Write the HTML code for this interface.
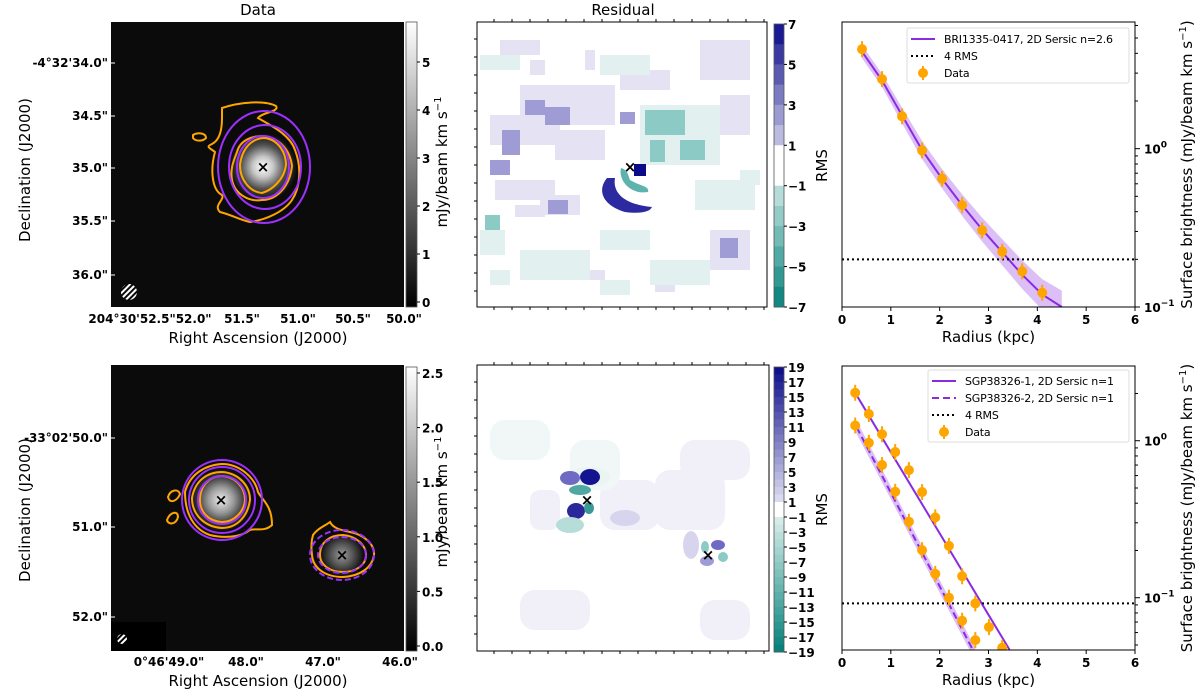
<!DOCTYPE html>
<html><head><meta charset="utf-8">
<style>
html,body{margin:0;padding:0;background:#fff;}
svg{display:block;font-family:"DejaVu Sans","Liberation Sans",sans-serif;}
.tk{font-size:12px;font-weight:bold;fill:#000;}
.lb{font-size:15px;fill:#000;}
</style></head>
<body>
<svg id="fig" width="1200" height="697" viewBox="0 0 1200 697" xmlns="http://www.w3.org/2000/svg">
<defs>
<radialGradient id="blob1" cx="0.5" cy="0.5" r="0.5">
 <stop offset="0" stop-color="#fff"/><stop offset="0.3" stop-color="#c8c8c8"/><stop offset="0.65" stop-color="#505050"/><stop offset="1" stop-color="#0a0a0a"/>
</radialGradient>
<radialGradient id="blob2" cx="0.5" cy="0.5" r="0.5">
 <stop offset="0" stop-color="#eee"/><stop offset="0.4" stop-color="#999"/><stop offset="0.75" stop-color="#333"/><stop offset="1" stop-color="#0a0a0a"/>
</radialGradient>
<radialGradient id="blob3" cx="0.5" cy="0.5" r="0.5">
 <stop offset="0" stop-color="#999"/><stop offset="0.5" stop-color="#555"/><stop offset="1" stop-color="#0a0a0a"/>
</radialGradient>
<linearGradient id="gray1" x1="0" y1="1" x2="0" y2="0"><stop offset="0" stop-color="#000"/><stop offset="1" stop-color="#fff"/></linearGradient>
<pattern id="hatch" width="4" height="4" patternUnits="userSpaceOnUse" patternTransform="rotate(45)"><rect width="2" height="4" fill="#fff"/></pattern>
</defs>

<text x="258" y="15" text-anchor="middle" class="lb">Data</text>
<text x="623" y="15" text-anchor="middle" class="lb">Residual</text>

<!-- ===== Top data image ===== -->
<g>
<rect x="111" y="22" width="293" height="285" fill="#0b0b0b"/>
<circle cx="263" cy="167" r="34" fill="url(#blob1)"/>
<g fill="none" stroke="#ffa500" stroke-width="2">
<path d="M222,108 C240,102 265,100 276,106 C280,112 262,112 258,118 C272,126 290,135 295,150 C302,168 300,188 292,200 C284,212 265,220 250,222 C240,220 232,215 220,212 C213,205 225,200 222,195 C212,190 210,170 215,152 C210,148 205,147 212,144 C220,140 222,128 222,118 Z"/>
<path d="M237,152 C240,140 252,136 263,136 C280,138 290,150 292,166 C290,185 278,200 262,200 C250,202 235,195 232,180 C230,168 234,160 237,152 Z"/>
<path d="M240,165 C242,148 252,138 265,138 C278,140 286,152 286,165 C284,180 272,190 262,193 C250,192 240,180 240,165 Z"/>
<path d="M193,135 C198,132 206,133 206,138 C202,142 195,141 193,138 Z"/>
</g>
<g fill="none" stroke="#9b30ff" stroke-width="2">
<ellipse cx="264" cy="167" rx="46" ry="56"/>
<ellipse cx="265" cy="167" rx="36" ry="42"/>
<ellipse cx="263" cy="167" rx="26" ry="31"/>
</g>
<text x="263" y="172" text-anchor="middle" font-size="15" font-weight="bold" fill="#000">×</text>
<circle cx="129" cy="292" r="8" fill="url(#hatch)"/>
</g>
<rect x="406" y="22" width="11" height="285" fill="url(#gray1)" stroke="#555" stroke-width="0.8"/>

<!-- ===== Bottom data image ===== -->
<g>
<rect x="111" y="365" width="293" height="286" fill="#0b0b0b"/>
<rect x="111" y="622" width="55" height="29" fill="#000"/>
<circle cx="221" cy="500" r="32" fill="url(#blob2)"/>
<circle cx="342" cy="555" r="22" fill="url(#blob3)"/>
<g fill="none" stroke="#ffa500" stroke-width="2">
<path d="M185,492 C190,474 205,465 222,464 C240,464 255,478 258,492 C262,500 272,505 272,525 C265,532 255,528 250,530 C240,538 222,538 210,535 C195,530 185,515 185,492 Z"/>
<path d="M192,498 C195,480 208,472 222,472 C238,473 250,485 250,500 C248,515 238,528 222,528 C205,527 192,515 192,498 Z"/>
<path d="M200,500 C200,485 210,476 222,476 C236,477 245,488 245,500 C244,512 234,522 222,522 C208,521 200,512 200,500 Z"/>
<path d="M168,497 C170,490 178,488 180,494 C178,500 170,505 168,497 Z"/>
<path d="M167,520 C170,512 178,510 178,517 C176,525 168,525 167,520 Z"/>
<path d="M313,535 C318,528 325,526 330,522 C333,528 340,530 350,532 C365,535 375,545 374,555 C372,568 360,576 343,577 C325,577 313,568 312,555 C311,548 311,542 313,535 Z"/>
<path d="M320,555 C320,542 330,535 343,535 C356,536 366,545 366,555 C366,565 356,572 343,572 C330,572 320,565 320,555 Z"/>
</g>
<g fill="none" stroke="#9b30ff" stroke-width="2">
<circle cx="222" cy="500" r="40"/>
<circle cx="222" cy="500" r="33"/>
<circle cx="222" cy="500" r="24"/>
</g>
<g fill="none" stroke="#9b30ff" stroke-width="2" stroke-dasharray="6,3">
<ellipse cx="342" cy="555" rx="32" ry="25"/>
<ellipse cx="342" cy="555" rx="24" ry="18"/>
</g>
<text x="221" y="505" text-anchor="middle" font-size="15" font-weight="bold" fill="#000">×</text>
<text x="342" y="560" text-anchor="middle" font-size="15" font-weight="bold" fill="#000">×</text>
<circle cx="122" cy="639" r="5" fill="url(#hatch)"/>
</g>
<rect x="406" y="367" width="11" height="284" fill="url(#gray1)" stroke="#555" stroke-width="0.8"/>

<!-- ===== Top residual ===== -->
<g>
<rect x="477" y="22" width="290" height="285" fill="#fff"/>
<g fill="#e4e2f3">
<rect x="490" y="115" width="70" height="30"/><rect x="520" y="85" width="95" height="40"/><rect x="555" y="130" width="50" height="30"/>
<rect x="495" y="180" width="60" height="20"/><rect x="540" y="195" width="40" height="20"/><rect x="700" y="40" width="50" height="40"/>
<rect x="710" y="230" width="40" height="40"/><rect x="500" y="40" width="40" height="15"/><rect x="620" y="70" width="50" height="20"/>
<rect x="720" y="95" width="30" height="40"/><rect x="515" y="205" width="30" height="12"/><rect x="580" y="270" width="25" height="10"/>
<rect x="655" y="280" width="20" height="12"/><rect x="530" y="60" width="15" height="15"/><rect x="585" y="50" width="10" height="20"/>
</g>
<g fill="#e2f1f0">
<rect x="640" y="105" width="80" height="60"/><rect x="600" y="55" width="50" height="20"/><rect x="520" y="250" width="70" height="30"/>
<rect x="650" y="260" width="60" height="25"/><rect x="480" y="55" width="40" height="15"/><rect x="695" y="180" width="60" height="30"/>
<rect x="600" y="230" width="50" height="20"/><rect x="480" y="230" width="25" height="25"/><rect x="740" y="170" width="20" height="15"/>
<rect x="490" y="270" width="20" height="15"/><rect x="600" y="280" width="30" height="15"/>
</g>
<g fill="#9f9bd4">
<rect x="525" y="100" width="20" height="15"/><rect x="545" y="107" width="25" height="18"/><rect x="502" y="130" width="18" height="25"/>
<rect x="490" y="160" width="20" height="15"/><rect x="720" y="238" width="18" height="20"/><rect x="548" y="200" width="20" height="14"/>
<rect x="620" y="112" width="15" height="12"/>
</g>
<g fill="#8ccac5">
<rect x="645" y="110" width="40" height="25"/><rect x="650" y="140" width="15" height="22"/><rect x="680" y="140" width="25" height="20"/>
<rect x="485" y="215" width="15" height="15"/>
</g>
<path d="M607,178 C597,190 602,205 625,212 C640,214 650,212 652,207 C628,205 612,195 615,178 Z" fill="#2c2aa0"/>
<path d="M621,168 C618,180 630,195 648,192 C650,186 640,186 630,180 C628,175 628,170 621,168 Z" fill="#5fb3ad"/>
<rect x="634" y="164" width="12" height="12" fill="#0b0b8a"/>
<text x="630" y="172" text-anchor="middle" font-size="15" font-weight="bold" fill="#000">×</text>
</g>
<rect x="477" y="22" width="290" height="285" fill="none" stroke="#000" stroke-width="1"/>

<!-- ===== Bottom residual ===== -->
<g>
<rect x="477" y="365" width="292" height="286" fill="#fff"/>
<g fill="#f1f0f9">
<rect x="600" y="480" width="60" height="50" rx="15"/><rect x="655" y="470" width="70" height="60" rx="15"/><rect x="530" y="490" width="30" height="40" rx="10"/>
<rect x="520" y="590" width="70" height="40" rx="15"/><rect x="700" y="600" width="50" height="40" rx="15"/><rect x="680" y="440" width="70" height="40" rx="15"/>
</g>
<g fill="#f0f7f6"><rect x="570" y="440" width="50" height="50" rx="15"/><rect x="490" y="420" width="60" height="40" rx="15"/></g>
<ellipse cx="590" cy="477" rx="20" ry="10" fill="#eaf4f3"/>
<ellipse cx="625" cy="518" rx="15" ry="8" fill="#d7d5ee"/>
<ellipse cx="691" cy="545" rx="8" ry="14" fill="#d7d5ee"/>
<ellipse cx="570" cy="478" rx="10" ry="7" fill="#6f6bc4"/>
<ellipse cx="590" cy="477" rx="10" ry="8" fill="#141490"/>
<ellipse cx="580" cy="490" rx="11" ry="5" fill="#4fa8a1"/>
<ellipse cx="576" cy="511" rx="9" ry="8" fill="#2a289a"/>
<ellipse cx="589" cy="508" rx="5" ry="6" fill="#3a9a93"/>
<ellipse cx="570" cy="525" rx="14" ry="8" fill="#b7ddd9"/>
<ellipse cx="718" cy="545" rx="7" ry="5" fill="#6f6bc4"/>
<ellipse cx="707" cy="561" rx="7" ry="5" fill="#9f9bd4"/>
<ellipse cx="723" cy="557" rx="5" ry="5" fill="#8ccac5"/>
<ellipse cx="705" cy="547" rx="4" ry="6" fill="#8ccac5"/>
<text x="587" y="505" text-anchor="middle" font-size="15" font-weight="bold" fill="#000">×</text>
<text x="708" y="560" text-anchor="middle" font-size="15" font-weight="bold" fill="#000">×</text>
</g>
<rect x="477" y="365" width="292" height="286" fill="none" stroke="#000" stroke-width="1"/>

<g id="static-axes"></g>
<g id="right-top"></g>
<g id="right-bot"></g>
</svg>

<script>
// ===== Top profile data (BRI1335-0417) =====
const topDataR = [0.41, 0.82, 1.23, 1.64, 2.05, 2.46, 2.87, 3.28, 3.69, 4.1];
const topDataV = [4.25, 2.75, 1.6, 0.975, 0.646, 0.44, 0.305, 0.224, 0.168, 0.123];
const topModelR = [0.41, 0.82, 1.23, 1.64, 2.05, 2.46, 2.87, 3.28, 3.69, 4.1, 4.5];
const topModelV = [4.1, 2.7, 1.62, 0.98, 0.645, 0.44, 0.308, 0.222, 0.16, 0.12, 0.1];
const topBandFactor = [1.1, 1.1, 1.12, 1.14, 1.15, 1.17, 1.19, 1.21, 1.23, 1.25, 1.27];
const topRms = 0.2;
// ===== Bottom profile data (SGP38326) =====
const botR1 = [0.27, 0.55, 0.82, 1.09, 1.37, 1.64, 1.91, 2.19, 2.46, 2.73, 3.01, 3.28];
const botV1 = [2.02, 1.48, 1.10, 0.847, 0.65, 0.471, 0.325, 0.214, 0.137, 0.092, 0.065, 0.048];
const botR2 = [0.27, 0.55, 0.82, 1.09, 1.37, 1.64, 1.91, 2.19, 2.46, 2.73];
const botV2 = [1.25, 0.97, 0.70, 0.473, 0.305, 0.201, 0.142, 0.100, 0.0714, 0.0537];
const model1R = [0.3, 1, 2, 3, 3.43];
const model1V = [1.95, 0.845, 0.257, 0.0778, 0.0467];
const model2R = [0.3, 1, 2, 2.68];
const model2V = [1.22, 0.467, 0.118, 0.0465];
const botRms = 0.092;
const xTicks = [0, 1, 2, 3, 4, 5, 6];

const NS = "http://www.w3.org/2000/svg";
function mk(parent, tag, attrs, text){
  const e = document.createElementNS(NS, tag);
  for (const k in attrs) e.setAttribute(k, attrs[k]);
  if (text !== undefined) e.textContent = text;
  parent.appendChild(e); return e;
}
const PURPLE = "#8a2be2", ORANGE = "#ffa500";

function drawProfile(g, cfg){
  const x0 = 842, x1 = 1135, y0 = cfg.top, y1 = cfg.bottom;
  const xs = r => x0 + (r / 6) * (x1 - x0);
  const ys = v => y1 - (Math.log10(v) - cfg.logMin) / (cfg.logMax - cfg.logMin) * (y1 - y0);
  const clip = mk(g, "clipPath", {id: cfg.id + "-clip"});
  mk(clip, "rect", {x: x0, y: y0, width: x1 - x0, height: y1 - y0});
  const plot = mk(g, "g", {"clip-path": "url(#" + cfg.id + "-clip)"});
  cfg.draw(plot, xs, ys);
  const rl = mk(plot, "line", {x1: x0, x2: x1, y1: ys(cfg.rms), y2: ys(cfg.rms), stroke: "#000", "stroke-width": 2, "stroke-dasharray": "2,3"});
  
  
  cfg.data.forEach(([R, V]) => {
    R.forEach((r, i) => {
      const cx = xs(r), cy = ys(V[i]);
      mk(plot, "line", {x1: cx, x2: cx, y1: cy - 8, y2: cy + 8, stroke: ORANGE, "stroke-width": 2});
      const c = mk(plot, "circle", {cx: cx, cy: cy, r: 5, fill: ORANGE});
      
      
    });
  });
  mk(g, "rect", {x: x0, y: y0, width: x1 - x0, height: y1 - y0, fill: "none", stroke: "#000", "stroke-width": 1});
  xTicks.forEach(t => {
    mk(g, "line", {x1: xs(t), x2: xs(t), y1: y1, y2: y1 + 4, stroke: "#000"});
    const tl = mk(g, "text", {x: xs(t), y: y1 + 17, "text-anchor": "middle", class: "tk"}, String(t));
    
    
  });
  const xl = mk(g, "text", {x: (x0 + x1) / 2, y: y1 + 35, "text-anchor": "middle", class: "lb"}, "Radius (kpc)");
  
  
  for (let d = Math.floor(cfg.logMin); d <= Math.ceil(cfg.logMax); d++) {
    for (let m = 1; m < 10; m++) {
      const lv = d + Math.log10(m);
      if (lv < cfg.logMin - 1e-6 || lv > cfg.logMax) continue;
      const y = ys(Math.pow(10, lv));
      mk(g, "line", {x1: x1, x2: x1 + (m === 1 ? 5 : 3), y1: y, y2: y, stroke: "#000"});
      if (m === 1) {
        const t = mk(g, "text", {x: x1 + 9, y: y + 5, class: "tk"});
        
        
        mk(t, "tspan", {}, "10");
        mk(t, "tspan", {dy: -6, "font-size": "9"}, d === 0 ? "0" : "\u22121");
      }
    }
  }
  const yl = mk(g, "text", {transform: "translate(1192," + ((y0 + y1) / 2) + ") rotate(-90)", "text-anchor": "middle", class: "lb"});
  
  
  mk(yl, "tspan", {}, "Surface brightness (mJy/beam km s");
  mk(yl, "tspan", {dy: -6, "font-size": "10"}, "\u22121");
  mk(yl, "tspan", {dy: 6}, ")");
  const lg = mk(g, "g", {});
  
  
  const L = cfg.legend;
  mk(lg, "rect", {x: L.x, y: L.y, width: L.w, height: L.items.length * 17 + 4, fill: "#fff", stroke: "#ddd", rx: 2});
  L.items.forEach((it, i) => {
    const yy = L.y + 11 + i * 17;
    if (it.type === "dot") {
      mk(lg, "line", {x1: L.x + 16, x2: L.x + 16, y1: yy - 7, y2: yy + 7, stroke: ORANGE, "stroke-width": 2});
      mk(lg, "circle", {cx: L.x + 16, cy: yy, r: 5, fill: ORANGE});
    } else {
      mk(lg, "line", {x1: L.x + 4, x2: L.x + 28, y1: yy, y2: yy, stroke: it.color, "stroke-width": 2, "stroke-dasharray": it.dash || "none"});
    }
    mk(lg, "text", {x: L.x + 37, y: yy + 4, "font-size": "11", "font-weight": "normal", "letter-spacing": "-0.2"}, it.label);
  });
}

function poly(pts){ return pts.map((p, i) => (i ? "L" : "M") + p[0].toFixed(1) + "," + p[1].toFixed(1)).join(" "); }

drawProfile(document.getElementById("right-top"), {
  id: "rt", top: 22, bottom: 307, logMin: -1, logMax: 0.80, rms: topRms,
  data: [[topDataR, topDataV]],
  draw: (p, xs, ys) => {
    const up = topModelR.map((r, i) => [xs(r), ys(topModelV[i] * topBandFactor[i])]);
    const lo = topModelR.map((r, i) => [xs(r), ys(topModelV[i] / topBandFactor[i])]).reverse();
    const b = mk(p, "path", {d: poly(up.concat(lo)) + " Z", fill: "rgba(138,43,226,0.3)"});
    
    
    const l = mk(p, "path", {d: poly(topModelR.map((r, i) => [xs(r), ys(topModelV[i])])), fill: "none", stroke: PURPLE, "stroke-width": 2});
    
    
  },
  legend: {x: 907, y: 28, w: 222, items: [
    {type: "line", color: PURPLE, label: "BRI1335-0417, 2D Sersic n=2.6"},
    {type: "line", color: "#000", dash: "2,3", label: "4 RMS"},
    {type: "dot", label: "Data"}]}
});

drawProfile(document.getElementById("right-bot"), {
  id: "rb", top: 366, bottom: 650, logMin: -1.333, logMax: 0.476, rms: botRms,
  data: [[botR1, botV1], [botR2, botV2]],
  draw: (p, xs, ys) => {
    const b = mk(p, "path", {d: poly(model2R.map((r, i) => [xs(r), ys(model2V[i])])), fill: "none", stroke: "rgba(138,43,226,0.3)", "stroke-width": 6});
    
    
    const l1 = mk(p, "path", {d: poly(model1R.map((r, i) => [xs(r), ys(model1V[i])])), fill: "none", stroke: PURPLE, "stroke-width": 2});
    
    
    const l2 = mk(p, "path", {d: poly(model2R.map((r, i) => [xs(r), ys(model2V[i])])), fill: "none", stroke: PURPLE, "stroke-width": 2, "stroke-dasharray": "7,4"});
    
    
  },
  legend: {x: 928, y: 370, w: 201, items: [
    {type: "line", color: PURPLE, label: "SGP38326-1, 2D Sersic n=1"},
    {type: "line", color: PURPLE, dash: "7,4", label: "SGP38326-2, 2D Sersic n=1"},
    {type: "line", color: "#000", dash: "2,3", label: "4 RMS"},
    {type: "dot", label: "Data"}]}
});

const ax = document.getElementById("static-axes");
function lbl(x, y, t, anchor, name){
  const e = mk(ax, "text", {x: x, y: y, "text-anchor": anchor, class: "tk"}, t);
  
  
}
const decTop = [["-4°32'34.0\"", 63], ["34.5\"", 116], ["35.0\"", 168], ["35.5\"", 221], ["36.0\"", 275]];
decTop.forEach(d => { lbl(108, d[1] + 4, d[0], "end", "dec-tick-label"); mk(ax, "line", {x1: 111, x2: 115, y1: d[1], y2: d[1], stroke: "#fff"}); });
const decBot = [["-33°02'50.0\"", 438], ["51.0\"", 527], ["52.0\"", 617]];
decBot.forEach(d => { lbl(108, d[1] + 4, d[0], "end", "dec-tick-label"); mk(ax, "line", {x1: 111, x2: 115, y1: d[1], y2: d[1], stroke: "#fff"}); });
const raTop = [["204°30'52.5\"52.0\"", 150], ["51.5\"", 242], ["51.0\"", 298], ["50.5\"", 353], ["50.0\"", 404]];
raTop.forEach(d => lbl(d[1], 323, d[0], "middle", "ra-tick-label"));
const raBot = [["0°46'49.0\"", 169], ["48.0\"", 246], ["47.0\"", 323], ["46.0\"", 400]];
raBot.forEach(d => lbl(d[1], 666, d[0], "middle", "ra-tick-label"));
[0,1,2,3,4,5].forEach(v => { const y = 302 - v * 48; lbl(422, y + 5, String(v), "start", "colorbar-tick-label"); mk(ax, "line", {x1: 417, x2: 420, y1: y, y2: y, stroke: "#000"}); });
[0,0.5,1,1.5,2,2.5].forEach(v => { const y = 646 - v * 109.2; lbl(422, y + 5, v.toFixed(1), "start", "colorbar-tick-label"); mk(ax, "line", {x1: 417, x2: 420, y1: y, y2: y, stroke: "#000"}); });
[170, 510].forEach(cy => {
  const t = mk(ax, "text", {transform: "translate(30," + cy + ") rotate(-90)", "text-anchor": "middle", class: "lb"}, "Declination (J2000)");
   
  const u = mk(ax, "text", {transform: "translate(447," + (cy - 8) + ") rotate(-90)", "text-anchor": "middle", class: "lb"});
   
  mk(u, "tspan", {}, "mJy/beam km s"); mk(u, "tspan", {dy: -6, "font-size": "10"}, "\u22121");
});
[343, 686].forEach(y => {
  const t = mk(ax, "text", {x: 258, y: y, "text-anchor": "middle", class: "lb"}, "Right Ascension (J2000)");
   
});
function resCbar(y0, y1, maxv, name){
  const n = maxv;
  const h = (y1 - y0) / (2 * n);
  for (let i = 0; i < 2 * n; i++) {
    const v = maxv - (i + 0.5);
    const a = Math.min(1, Math.abs(v) / maxv);
    let col;
    if (Math.abs(v) < 1) col = "#ffffff";
    else if (v > 0) col = "rgb(" + Math.round(235 - 225 * a) + "," + Math.round(235 - 225 * a) + "," + Math.round(248 - 110 * a) + ")";
    else col = "rgb(" + Math.round(232 - 232 * a) + "," + Math.round(245 - 117 * a) + "," + Math.round(243 - 123 * a) + ")";
    mk(ax, "rect", {x: 774, y: y0 + i * h, width: 10, height: h + 0.5, fill: col});
  }
  const r = mk(ax, "rect", {x: 774, y: y0, width: 10, height: y1 - y0, fill: "none", stroke: "#555", "stroke-width": 0.8});
   
  for (let v = maxv; v >= -maxv; v -= 2) {
    const y = y0 + (maxv - v) / (2 * maxv) * (y1 - y0);
    mk(ax, "line", {x1: 784, x2: 787, y1: y, y2: y, stroke: "#000"});
    lbl(788, y + 5, v < 0 ? "\u2212" + (-v) : String(v), "start", "residual-colorbar-tick");
  }
  const t = mk(ax, "text", {transform: "translate(827," + ((y0 + y1) / 2) + ") rotate(-90)", "text-anchor": "middle", class: "lb"}, "RMS");
   
}
resCbar(24, 307, 7, "top-residual-colorbar");
resCbar(367, 652, 19, "bottom-residual-colorbar");
[[22, 307, 477, 767], [365, 651, 477, 769]].forEach(([t, b, l, r]) => {
  for (let x = l + 17; x < r; x += 18) { mk(ax, "line", {x1: x, x2: x, y1: t, y2: t - 3, stroke: "#000"}); mk(ax, "line", {x1: x, x2: x, y1: b, y2: b + 3, stroke: "#000"}); }
  for (let y = t + 17; y < b; y += 18) mk(ax, "line", {x1: l, x2: l - 3, y1: y, y2: y, stroke: "#000"});
});
</script>
</body></html>
